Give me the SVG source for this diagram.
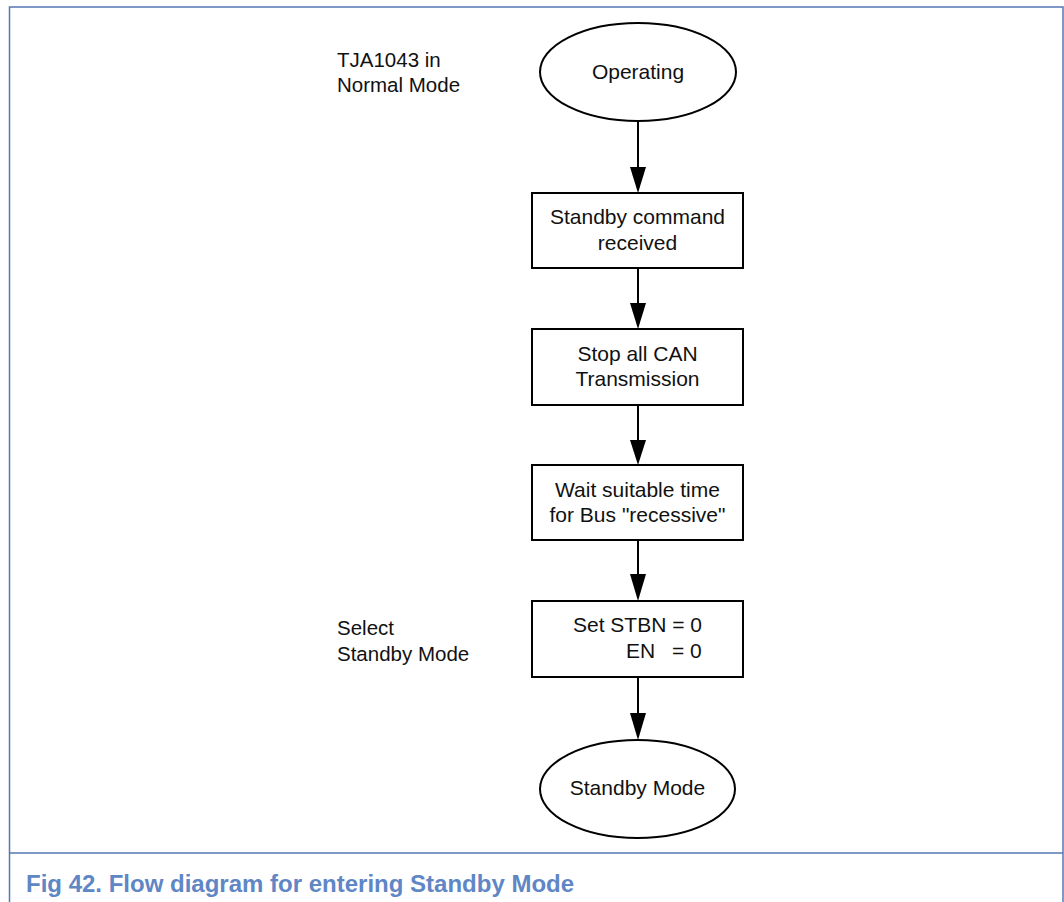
<svg xmlns="http://www.w3.org/2000/svg" width="1064" height="902" viewBox="0 0 1064 902">
<style>
.frame{fill:none;stroke:#5577b5;stroke-width:1.5}
.shape{fill:#ffffff;stroke:#000000;stroke-width:2}
.conn{fill:none;stroke:#000000;stroke-width:2}
.t{font-family:"Liberation Sans",Arial,sans-serif;font-size:21px;fill:#111111}
.c{text-anchor:middle}
.lbl{font-family:"Liberation Sans",Arial,sans-serif;font-size:20.5px;fill:#111111}
.cap{font-family:"Liberation Sans",Arial,sans-serif;font-size:24px;font-weight:bold;fill:#5f86c5}
</style>
<defs>
<marker id="arr" markerWidth="16" markerHeight="26" refX="16" refY="8" orient="auto" markerUnits="userSpaceOnUse" viewBox="0 0 26 16">
<path d="M0,0 L26,8 L0,16 Z" fill="#000000"/>
</marker>
</defs>
<rect width="1064" height="902" fill="#ffffff"/>
<g id="frame">
<path class="frame" d="M9.5,902 V7 H1063 V902"/>
<line class="frame" x1="9.5" y1="853" x2="1063" y2="853"/>
</g>
<g id="labels">
<text class="lbl" x="337" y="67">TJA1043 in</text>
<text class="lbl" x="337" y="92">Normal Mode</text>
<text class="lbl" x="337" y="635">Select</text>
<text class="lbl" x="337" y="661">Standby Mode</text>
</g>
<g id="connectors">
<path d="M638,121 V167" class="conn"/><path d="M630,167 L646,167 L638,193 Z" fill="#000"/>
<path d="M638,268 V303" class="conn"/><path d="M630,303 L646,303 L638,329 Z" fill="#000"/>
<path d="M638,405 V440" class="conn"/><path d="M630,440 L646,440 L638,465 Z" fill="#000"/>
<path d="M638,540 V574" class="conn"/><path d="M630,574 L646,574 L638,601 Z" fill="#000"/>
<path d="M638,677 V713" class="conn"/><path d="M630,713 L646,713 L638,740 Z" fill="#000"/>
</g>
<g id="n-operating">
<ellipse class="shape" cx="638" cy="72" rx="98" ry="49"/>
<text class="t c" x="638" y="79">Operating</text>
</g>
<g id="n-standby-cmd">
<rect class="shape" x="532" y="193" width="211" height="75"/>
<text class="t c" x="637.5" y="224">Standby command</text>
<text class="t c" x="637.5" y="250">received</text>
</g>
<g id="n-stop-can">
<rect class="shape" x="532" y="329" width="211" height="76"/>
<text class="t c" x="637.5" y="361">Stop all CAN</text>
<text class="t c" x="637.5" y="386">Transmission</text>
</g>
<g id="n-wait">
<rect class="shape" x="532" y="465" width="211" height="75"/>
<text class="t c" x="637.5" y="497">Wait suitable time</text>
<text class="t c" x="637.5" y="522">for Bus "recessive"</text>
</g>
<g id="n-set">
<rect class="shape" x="532" y="601" width="211" height="76"/>
<text class="t" x="573" y="632">Set STBN = 0</text>
<text class="t" y="658"><tspan x="626">EN</tspan><tspan x="672">= 0</tspan></text>
</g>
<g id="n-standby-mode">
<ellipse class="shape" cx="637.5" cy="789" rx="97.5" ry="49"/>
<text class="t c" x="637.5" y="795">Standby Mode</text>
</g>
<g id="caption">
<text class="cap" x="26" y="892">Fig 42. Flow diagram for entering Standby Mode</text>
</g>
</svg>
